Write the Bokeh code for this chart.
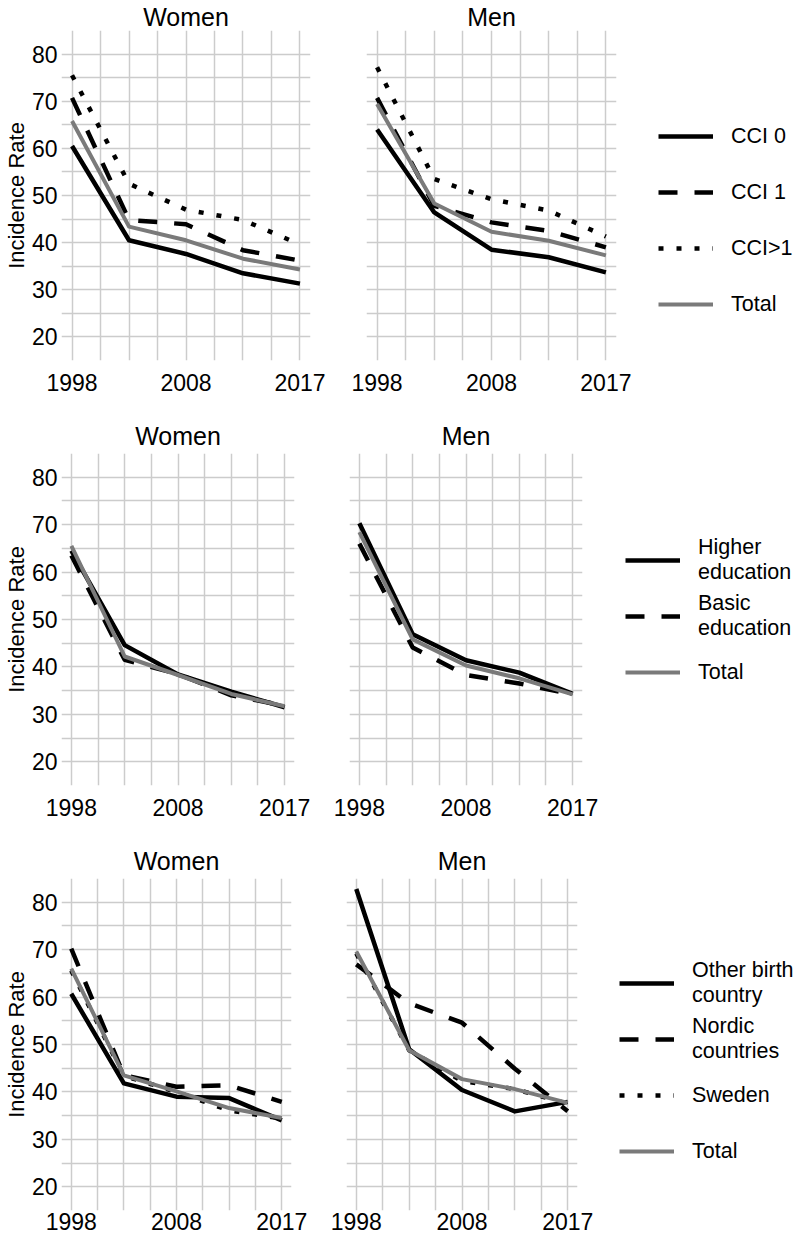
from bokeh.plotting import figure
from bokeh.layouts import column, row
from bokeh.models import Range1d, FixedTicker, LinearAxis, Grid, Legend, LegendItem
from bokeh.embed import file_html
from bokeh.resources import INLINE

# ---------------- data ----------------
periods = ["1998", "2003", "2008", "2013", "2017"]
x_tick_labels = ["1998", "2008", "2017"]
y_tick_values = [20, 30, 40, 50, 60, 70, 80]

# Row 1: comorbidity (CCI)
cci_labels = ["CCI 0", "CCI 1", "CCI>1", "Total"]
women_cci0 = [60.5, 40.5, 37.6, 33.5, 31.3]
women_cci1 = [70.7, 44.8, 43.9, 38.4, 36.2]
women_cci2 = [75.5, 52.5, 47.0, 44.8, 39.6]
women_cci_total = [65.8, 43.4, 40.5, 36.6, 34.3]
men_cci0 = [64.0, 46.4, 38.5, 36.9, 33.7]
men_cci1 = [70.7, 47.8, 44.3, 42.5, 39.0]
men_cci2 = [77.2, 53.5, 49.2, 46.8, 41.3]
men_cci_total = [69.4, 48.3, 42.3, 40.4, 37.3]

# Row 2: education
edu_labels = ["Higher\neducation", "Basic\neducation", "Total"]
women_higher = [64.5, 44.6, 38.4, 34.8, 31.5]
women_basic = [63.5, 41.5, 38.5, 34.0, 31.8]
women_edu_total = [65.5, 42.2, 38.3, 34.3, 31.7]
men_higher = [70.3, 46.9, 41.4, 38.8, 34.3]
men_basic = [66.0, 44.1, 38.3, 36.5, 34.2]
men_edu_total = [68.4, 45.8, 40.3, 37.6, 34.2]

# Row 3: birth country
bc_labels = ["Other birth\ncountry", "Nordic\ncountries", "Sweden", "Total"]
women_other = [60.7, 41.8, 39.0, 38.7, 34.0]
women_nordic = [70.2, 43.5, 41.1, 41.4, 37.9]
women_sweden = [65.6, 43.4, 40.0, 36.1, 34.4]
women_bc_total = [66.0, 43.5, 40.1, 36.6, 34.5]
men_other = [82.8, 49.0, 40.4, 35.9, 37.9]
men_nordic = [66.9, 58.7, 54.6, 44.9, 35.9]
men_sweden = [69.2, 48.8, 42.3, 40.6, 37.5]
men_bc_total = [69.6, 48.8, 42.7, 40.6, 37.7]

# ---------------- styles ----------------
FONT = "Liberation Sans"
BLACK = "#000000"
GREY = "#7a7a7a"
GRID = "#cccccc"
STYLE = {
    "solid": dict(line_color=BLACK, line_dash="solid", line_width=4.5),
    "dashed": dict(line_color=BLACK, line_dash="19 17", line_width=4.5),
    "dotted": dict(line_color=BLACK, line_dash="5 13", line_width=4.5),
    "total": dict(line_color=GREY, line_dash="solid", line_width=4),
}

x_idx = list(range(len(periods)))
x_grid = [i * 0.5 for i in range(2 * (len(periods) - 1) + 1)]
y_grid = list(range(15, 90, 5))
tick_pos = [periods.index(t) for t in x_tick_labels]


def style_axis(ax, standoff):
    ax.axis_line_color = None
    ax.major_tick_line_color = None
    ax.minor_tick_line_color = None
    ax.major_tick_out = 0
    ax.major_tick_in = 0
    ax.major_label_text_font = FONT
    ax.major_label_text_font_size = "23px"
    ax.major_label_text_color = BLACK
    ax.major_label_standoff = standoff


def panel(title, series, frame_w, frame_h, left, right, top, bottom,
          show_y, title_standoff, xlab_standoff, legend_loc=None, legend_standoff=18):
    p = figure(frame_width=frame_w, frame_height=frame_h,
               x_range=Range1d(-0.185, len(periods) - 1 + 0.185),
               y_range=Range1d(15, 85),
               x_axis_type=None, y_axis_type=None,
               toolbar_location=None, output_backend="svg",
               min_border_left=left, min_border_right=right,
               min_border_top=top, min_border_bottom=bottom,
               outline_line_color=None, title=title)
    p.title.align = "center"
    p.title.text_font = FONT
    p.title.text_font_size = "25px"
    p.title.text_font_style = "normal"
    p.title.text_color = BLACK
    p.title.standoff = title_standoff

    p.add_layout(Grid(dimension=0, ticker=FixedTicker(ticks=x_grid),
                      grid_line_color=GRID, grid_line_width=1.5))
    p.add_layout(Grid(dimension=1, ticker=FixedTicker(ticks=y_grid),
                      grid_line_color=GRID, grid_line_width=1.5))

    xa = LinearAxis(ticker=FixedTicker(ticks=tick_pos),
                    major_label_overrides={pos: lab for pos, lab in zip(tick_pos, x_tick_labels)})
    style_axis(xa, xlab_standoff)
    p.add_layout(xa, "below")

    if show_y:
        ya = LinearAxis(ticker=FixedTicker(ticks=y_tick_values), axis_label="Incidence Rate")
        style_axis(ya, 4)
        ya.axis_label_text_font = FONT
        ya.axis_label_text_font_size = "22px"
        ya.axis_label_text_font_style = "normal"
        ya.axis_label_text_color = BLACK
        ya.axis_label_standoff = 0
        p.add_layout(ya, "left")

    items = []
    for label, vals, style in series:
        r = p.line(x=x_idx, y=vals, line_join="round", line_cap="butt", **STYLE[style])
        items.append(LegendItem(label=label, renderers=[r]))

    if legend_loc is not None:
        leg = Legend(items=items, location=legend_loc, orientation="vertical",
                     glyph_width=55, glyph_height=56, label_height=56, spacing=0,
                     padding=0, margin=0, border_line_color=None,
                     background_fill_alpha=0, label_standoff=legend_standoff,
                     label_text_font=FONT, label_text_font_size="21.5px",
                     label_text_color=BLACK, label_text_line_height=1.1)
        p.add_layout(leg, "right")
    return p


row1_w = panel("Women", [(cci_labels[0], women_cci0, "solid"), (cci_labels[1], women_cci1, "dashed"),
                         (cci_labels[2], women_cci2, "dotted"), (cci_labels[3], women_cci_total, "total")],
               249, 330, 54, 28, 25, 55, True, 0, 13)
row1_m = panel("Men", [(cci_labels[0], men_cci0, "solid"), (cci_labels[1], men_cci1, "dashed"),
                       (cci_labels[2], men_cci2, "dotted"), (cci_labels[3], men_cci_total, "total")],
               250, 330, 28, 175, 25, 55, False, 0, 13, legend_loc=(42, 28))

row2_w = panel("Women", [(edu_labels[0], women_higher, "solid"), (edu_labels[1], women_basic, "dashed"),
                         (edu_labels[2], women_edu_total, "total")],
               233, 332, 54, 27, 38, 55, True, 8, 13)
row2_m = panel("Men", [(edu_labels[0], men_higher, "solid"), (edu_labels[1], men_basic, "dashed"),
                       (edu_labels[2], men_edu_total, "total")],
               233, 332, 28, 209, 38, 55, False, 8, 13, legend_loc=(43, 85))

row3_w = panel("Women", [(bc_labels[0], women_other, "solid"), (bc_labels[1], women_nordic, "dashed"),
                         (bc_labels[2], women_sweden, "dotted"), (bc_labels[3], women_bc_total, "total")],
               230, 332, 54, 27, 37, 27, True, 8, 2)
row3_m = panel("Men", [(bc_labels[0], men_other, "solid"), (bc_labels[1], men_nordic, "dashed"),
                       (bc_labels[2], men_sweden, "dotted"), (bc_labels[3], men_bc_total, "total")],
               231, 332, 28, 214, 37, 27, False, 8, 2, legend_loc=(42, 31))

layout = column(row(row1_w, row1_m), row(row2_w, row2_m), row(row3_w, row3_m))

open("out.html", "w").write(file_html(layout, INLINE))
